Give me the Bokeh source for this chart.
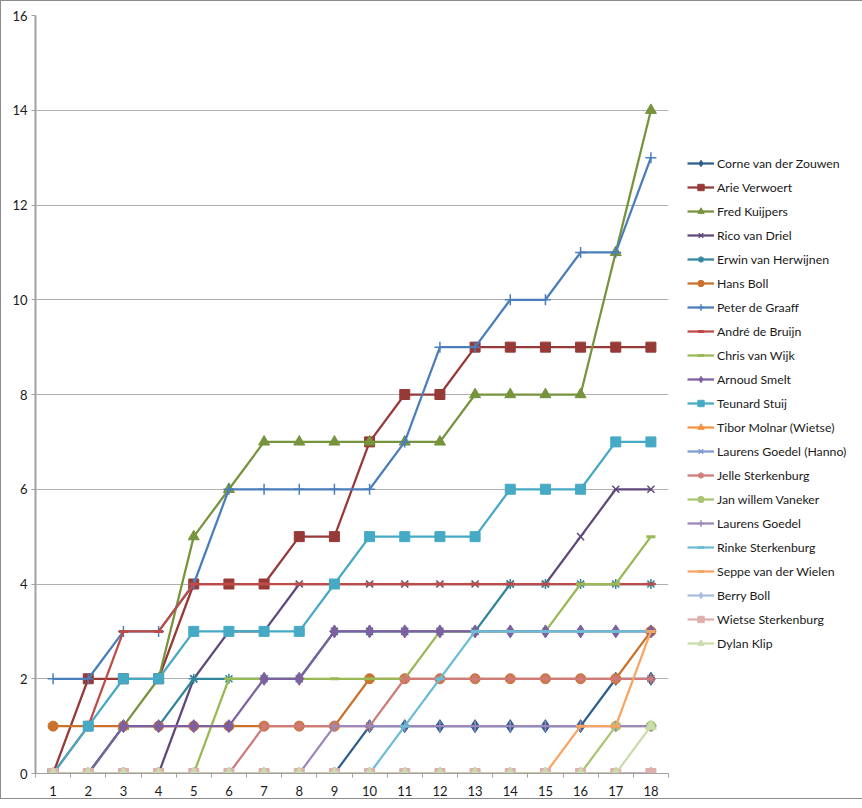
from bokeh.plotting import figure
from bokeh.models import Range1d, FixedTicker, Legend, LegendItem
from bokeh.embed import file_html
from bokeh.resources import INLINE

rounds = list(range(1, 19))
y_ticks = [0, 2, 4, 6, 8, 10, 12, 14, 16]

names = [
    "Corne van der Zouwen", "Arie Verwoert", "Fred Kuijpers", "Rico van Driel",
    "Erwin van Herwijnen", "Hans Boll", "Peter de Graaff", "André de Bruijn",
    "Chris van Wijk", "Arnoud Smelt", "Teunard Stuij", "Tibor Molnar (Wietse)",
    "Laurens Goedel (Hanno)", "Jelle Sterkenburg", "Jan willem Vaneker",
    "Laurens Goedel", "Rinke Sterkenburg", "Seppe van der Wielen", "Berry Boll",
    "Wietse Sterkenburg", "Dylan Klip",
]

corne   = [0, 0, 0, 0, 0, 0, 0, 0, 0, 1, 1, 1, 1, 1, 1, 1, 2, 2]
arie    = [0, 2, 2, 2, 4, 4, 4, 5, 5, 7, 8, 8, 9, 9, 9, 9, 9, 9]
fred    = [0, 0, 1, 2, 5, 6, 7, 7, 7, 7, 7, 7, 8, 8, 8, 8, 11, 14]
rico    = [0, 0, 0, 0, 2, 3, 3, 4, 4, 4, 4, 4, 4, 4, 4, 5, 6, 6]
erwin   = [0, 0, 1, 1, 2, 2, 2, 2, 3, 3, 3, 3, 3, 4, 4, 4, 4, 4]
hans    = [1, 1, 1, 1, 1, 1, 1, 1, 1, 2, 2, 2, 2, 2, 2, 2, 2, 3]
peter   = [2, 2, 3, 3, 4, 6, 6, 6, 6, 6, 7, 9, 9, 10, 10, 11, 11, 13]
andre   = [0, 1, 3, 3, 4, 4, 4, 4, 4, 4, 4, 4, 4, 4, 4, 4, 4, 4]
chris   = [0, 0, 0, 0, 0, 2, 2, 2, 2, 2, 2, 3, 3, 3, 3, 4, 4, 5]
arnoud  = [0, 0, 1, 1, 1, 1, 2, 2, 3, 3, 3, 3, 3, 3, 3, 3, 3, 3]
teunard = [0, 1, 2, 2, 3, 3, 3, 3, 4, 5, 5, 5, 5, 6, 6, 6, 7, 7]
tibor   = [0, 0, 0, 0, 0, 0, 0, 0, 0, 0, 0, 0, 0, 0, 0, 0, 0, 0]
hanno   = [0, 0, 0, 0, 0, 0, 0, 0, 0, 0, 0, 0, 0, 0, 0, 0, 0, 0]
jelle   = [0, 0, 0, 0, 0, 0, 1, 1, 1, 1, 2, 2, 2, 2, 2, 2, 2, 2]
janw    = [0, 0, 0, 0, 0, 0, 0, 0, 0, 0, 0, 0, 0, 0, 0, 0, 1, 1]
laurens = [0, 0, 0, 0, 0, 0, 0, 0, 1, 1, 1, 1, 1, 1, 1, 1, 1, 1]
rinke   = [0, 0, 0, 0, 0, 0, 0, 0, 0, 0, 1, 2, 3, 3, 3, 3, 3, 3]
seppe   = [0, 0, 0, 0, 0, 0, 0, 0, 0, 0, 0, 0, 0, 0, 0, 1, 1, 3]
berry   = [0, 0, 0, 0, 0, 0, 0, 0, 0, 0, 0, 0, 0, 0, 0, 0, 0, 0]
wietse  = [0, 0, 0, 0, 0, 0, 0, 0, 0, 0, 0, 0, 0, 0, 0, 0, 0, 0]
dylan   = [0, 0, 0, 0, 0, 0, 0, 0, 0, 0, 0, 0, 0, 0, 0, 0, 0, 1]

series = [corne, arie, fred, rico, erwin, hans, peter, andre, chris, arnoud,
          teunard, tibor, hanno, jelle, janw, laurens, rinke, seppe, berry,
          wietse, dylan]

colors = [
    "#2E5E8E", "#963A37", "#77933C", "#5F497A", "#31859C", "#CA722C",
    "#4A7EBB", "#BE4B48", "#98B954", "#7D60A0", "#46AAC5", "#F69240",
    "#7E9CD1", "#CF7B79", "#A9C572", "#9D88BA", "#6DBDD6", "#F8A462",
    "#A7BEDE", "#DDAFAE", "#CBDCAC",
]
markers = [
    "diamond", "square", "triangle", "x", "asterisk", "circle", "cross", "dash",
    "dash", "diamond", "square", "triangle", "x", "asterisk", "circle", "cross",
    "dash", "dash", "diamond", "square", "triangle",
]
msizes = {"diamond": 13, "square": 10, "triangle": 11, "x": 10, "asterisk": 10,
          "circle": 10, "cross": 11, "dash": 9}

FONT = "Lato"

p = figure(width=846, height=792, output_backend="svg", toolbar_location=None,
           x_range=Range1d(0.5, 18.5), y_range=Range1d(0, 16),
           min_border_left=34, min_border_top=14, min_border_bottom=20,
           min_border_right=179)
p.frame_width = 633
p.frame_height = 758
p.outline_line_color = None
p.background_fill_color = "white"
p.border_fill_color = "white"

p.xaxis.ticker = FixedTicker(ticks=rounds, minor_ticks=[r - 0.5 for r in rounds] + [18.5])
p.xaxis.major_tick_out = 0
p.xaxis.major_tick_in = 0
p.xaxis.minor_tick_out = 4
p.xaxis.minor_tick_in = 0
p.xaxis.minor_tick_line_color = "#A0A0A0"
p.xaxis.axis_line_color = "#A0A0A0"
p.xaxis.major_label_standoff = 8
p.xaxis.major_label_text_font = FONT
p.xaxis.major_label_text_font_size = "13px"
p.xaxis.major_label_text_color = "#1a1a1a"

p.yaxis.ticker = FixedTicker(ticks=y_ticks)
p.yaxis.major_tick_out = 4
p.yaxis.major_tick_in = 0
p.yaxis.minor_tick_line_color = None
p.yaxis.major_tick_line_color = "#A0A0A0"
p.yaxis.axis_line_color = "#A0A0A0"
p.yaxis.axis_line_width = 2
p.yaxis.major_label_standoff = 4
p.yaxis.major_label_text_font = FONT
p.yaxis.major_label_text_font_size = "13px"
p.yaxis.major_label_text_color = "#1a1a1a"

p.xgrid.grid_line_color = None
p.ygrid.grid_line_color = "#B0B0B0"
p.ygrid.grid_line_width = 1

items = []
for name, ys, col, mk in zip(names, series, colors, markers):
    ln = p.line(rounds, ys, line_color=col, line_width=2.25)
    lw = 3 if mk == "dash" else (1.5 if mk in ("x", "asterisk", "cross") else 1)
    sc = p.scatter(rounds, ys, marker=mk, size=msizes[mk], fill_color=col,
                   line_color=col, line_width=lw)
    items.append(LegendItem(label=name, renderers=[ln, sc]))

legend = Legend(items=items, location=(19, 122))
legend.padding = 0
legend.margin = 0
legend.spacing = 8
legend.glyph_width = 27
legend.glyph_height = 16
legend.label_height = 16
legend.label_standoff = 3
legend.label_text_font = FONT
legend.label_text_font_size = "12.3px"
legend.label_text_color = "#1a1a1a"
legend.border_line_color = None
legend.background_fill_alpha = 0
p.add_layout(legend, "right")

p.styles = {"border": "1px solid #8c8c8c"}

open("out.html", "w").write(file_html(p, INLINE))
